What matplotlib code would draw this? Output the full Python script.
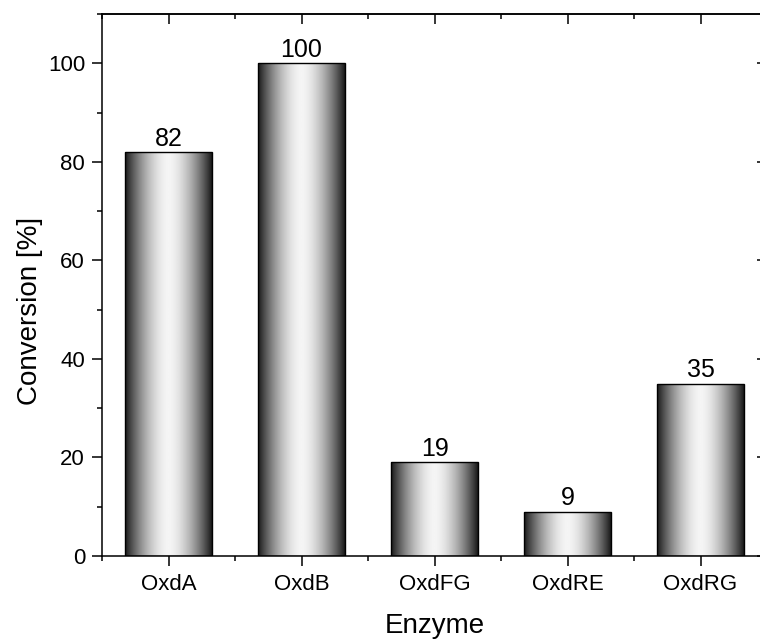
import numpy as np
import matplotlib
matplotlib.use("Agg")
import matplotlib.pyplot as plt
from matplotlib.ticker import FixedLocator, MultipleLocator

enzymes = ["OxdA", "OxdB", "OxdFG", "OxdRE", "OxdRG"]
conversion = [82, 100, 19, 9, 35]

plt.rcParams['font.family'] = ['Liberation Sans', 'DejaVu Sans']

W, H = 760, 644
fig = plt.figure(figsize=(W / 100, H / 100), dpi=100)
ax = fig.add_axes([102 / W, (H - 556) / H, (767 - 102) / W, (556 - 14) / H])

x = np.arange(len(enzymes))
bars = ax.bar(x, conversion, width=0.65, facecolor='none',
              edgecolor='black', linewidth=1.0, zorder=3)

# horizontal metallic shading: dark edges, bright middle
t = np.linspace(0, 1, 256)
shade = 0.10 + 0.86 * (1 - np.abs(2 * t - 1) ** 1.7)
grad = shade[np.newaxis, :]
for b in bars:
    x0, y0, w, h = b.get_x(), b.get_y(), b.get_width(), b.get_height()
    im = ax.imshow(grad, cmap='gray', vmin=0, vmax=1,
                   extent=[x0, x0 + w, y0, y0 + h], aspect='auto',
                   interpolation='bilinear', zorder=2)
    im.set_clip_path(b)

for xi, v in zip(x, conversion):
    ax.annotate(f"{v}", (xi, v), xytext=(0, 1), textcoords='offset points',
                ha='center', va='bottom', fontsize=18)

ax.set_xlim(-0.5, 4.5)
ax.set_ylim(0, 110)

ax.set_xticks(x, enzymes)
ax.xaxis.set_minor_locator(FixedLocator(np.arange(-0.5, 5, 1.0)))
ax.yaxis.set_major_locator(MultipleLocator(20))
ax.yaxis.set_minor_locator(MultipleLocator(10))

for s in ax.spines.values():
    s.set_linewidth(1.1)

ax.tick_params(which='major', direction='out', length=7.2, width=1.1,
               labelsize=16, pad=5)
ax.tick_params(axis='x', which='major', pad=6)
ax.tick_params(which='minor', direction='out', length=3.8, width=1.1)
ax.tick_params(top=False, right=False, which='both')

# inward ticks on the top and right frame edges
top = ax.secondary_xaxis('top')
top.set_xticks(x)
top.xaxis.set_minor_locator(FixedLocator(np.arange(-0.5, 5, 1.0)))
top.tick_params(which='major', direction='in', length=7.2, width=1.1, labeltop=False)
top.tick_params(which='minor', direction='in', length=3.8, width=1.1)
top.spines['top'].set_linewidth(1.1)

right = ax.secondary_yaxis('right')
right.yaxis.set_major_locator(MultipleLocator(20))
right.yaxis.set_minor_locator(MultipleLocator(10))
right.tick_params(which='major', direction='in', length=7.2, width=1.1, labelright=False)
right.tick_params(which='minor', direction='in', length=3.8, width=1.1)
right.spines['right'].set_linewidth(1.1)

ax.set_xlabel("Enzyme", fontsize=20, labelpad=13)
ax.set_ylabel("Conversion [%]", fontsize=20)
ax.yaxis.set_label_coords(-0.089, 0.452)

fig.savefig("out.png", dpi=100)
